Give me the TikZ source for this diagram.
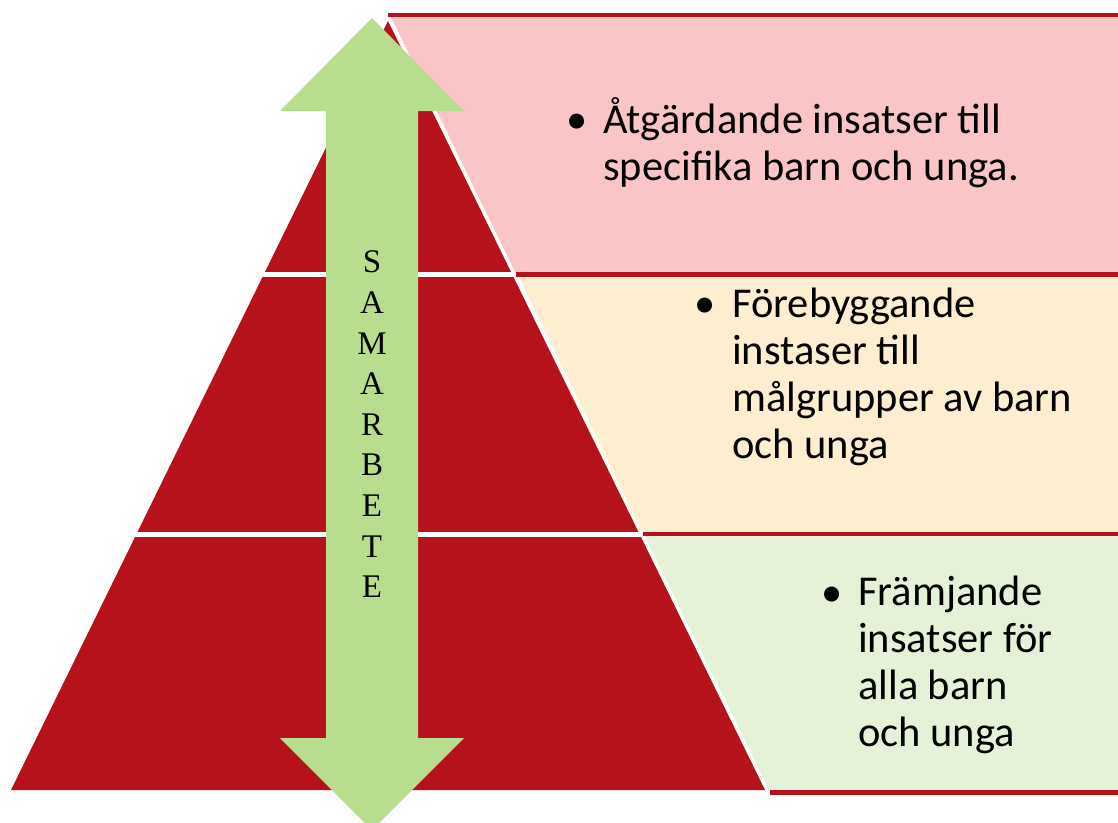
\documentclass[tikz,border=0pt]{standalone}
\usepackage{fontspec}
\usepackage{xcolor}
\newfontfamily\calib{Carlito}
\newfontfamily\timesf{Liberation Serif}

\definecolor{pyrred}{HTML}{B5121B}
\definecolor{bandpink}{HTML}{F9C5C7}
\definecolor{bandcream}{HTML}{FCEECF}
\definecolor{bandgreen}{HTML}{E6F2D8}
\definecolor{arrowgreen}{HTML}{B8DD8E}

\begin{document}
\begin{tikzpicture}[x=1pt,y=-1pt,
    redline/.style={draw=pyrred,line width=4.5pt},
    gap/.style={draw=white,line width=5pt},
    item/.style={font=\calib\fontsize{42.5}{47}\selectfont,align=left,anchor=base west,inner sep=0pt},
    bul/.style={font=\calib\fontsize{42.5}{47}\selectfont,anchor=base,inner sep=0pt},
    letter/.style={font=\timesf\fontsize{33}{33}\selectfont,inner sep=0pt}]
    \useasboundingbox (0,0) rectangle (1118,822);
    \clip (0,0) rectangle (1118,822);

    % pyramid, cut in three tiers
    \fill[pyrred] (388,21) -- (765,790) -- (11,790) -- cycle;
    \draw[gap] (200,274.5) -- (520,274.5);
    \draw[gap] (100,534) -- (645,534);

    % bands on the right
    \fill[bandpink] (390,15) -- (1118,15) -- (1118,274) -- (516,274) -- cycle;
    \fill[bandcream] (518,275) -- (1118,275) -- (1118,534) -- (643,534) -- cycle;
    \fill[bandgreen] (644,535) -- (1118,535) -- (1118,792) -- (770,792) -- cycle;
    \draw[redline] (388,15) -- (1118,15);
    \draw[redline] (516,274.5) -- (1118,274.5);
    \draw[redline] (643,534) -- (1118,534);
    \draw[redline] (770,792.5) -- (1118,792.5);

    % double arrow
    \fill[arrowgreen] (372,18) -- (464,111) -- (418,111) -- (418,738) -- (464,738)
    -- (372,830) -- (280,738) -- (326,738) -- (326,111) -- (280,111) -- cycle;
    \foreach \l [count=\i] in {S,A,M,A,R,B,E,T,E}
    \node[letter] (l\i) at (372,{262+40.6*(\i-1)}) {\l};

    % texts (base = last line)
    \node[bul] (b1) at (577,133) {\textbullet};
    \node[item] (t1) at (603,180) {Åtgärdande insatser till\\specifika barn och unga.};
    \node[bul] (b2) at (705,317) {\textbullet};
    \node[item] (t2) at (732,458) {Förebyggande\\instaser till\\målgrupper av barn\\och unga};
    \node[bul] (b3) at (832,606) {\textbullet};
    \node[item] (t3) at (858,746) {Främjande\\insatser för\\alla barn\\och unga};

  \end{tikzpicture}
\end{document}
